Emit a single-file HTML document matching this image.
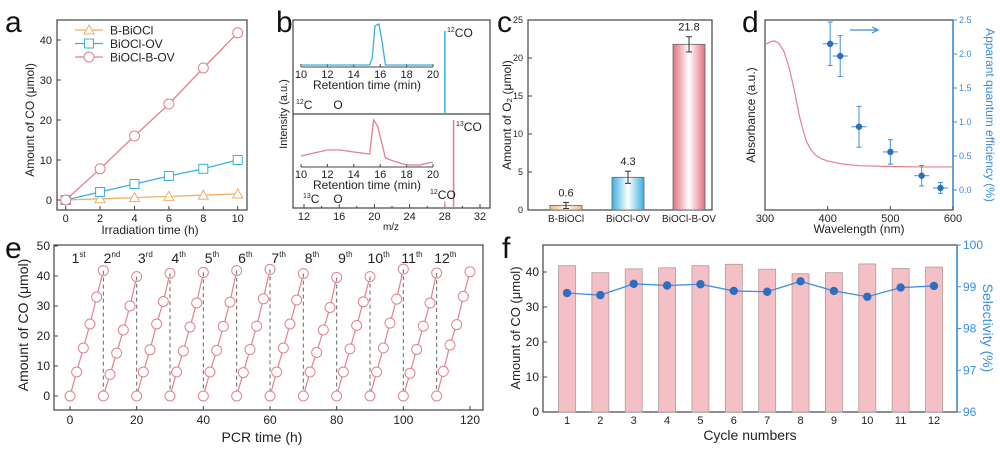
<!DOCTYPE html>
<html><head><meta charset="utf-8"><style>
html,body{margin:0;padding:0;background:#fff;}
svg{display:block;font-family:"Liberation Sans",sans-serif;}
</style></head><body>
<svg id="fig" width="1000" height="452" viewBox="0 0 1000 452" xmlns="http://www.w3.org/2000/svg"></svg>
<script>
// ---------- Data ----------
const aTimes=[0,2,4,6,8,10];
const aBBiOCl=[0,0.3,0.6,0.9,1.2,1.5];
const aBiOClOV=[0,2,4,6,7.8,10];
const aBiOClBOV=[0,7.8,16,24,33,41.8];
const aTicksX=[0,2,4,6,8,10];
const aTicksY=[0,10,20,30,40];

const cCats=["B-BiOCl","BiOCl-OV","BiOCl-B-OV"];
const cVals=[0.6,4.3,21.8];
const cErr=[0.4,0.8,1.0];
const cTicksY=[0,5,10,15,20,25];

const dWave=[404,420,450,500,550,580];
const dAQE=[2.15,1.97,0.93,0.56,0.21,0.03];
const dAQEErr=[0.32,0.3,0.3,0.18,0.15,0.08];
const dAbsX=[300,308,315,322,330,338,345,350,355,360,366,372,380,390,400,425,450,500,550,600];
const dAbsY=[0.84,0.86,0.865,0.85,0.8,0.7,0.58,0.48,0.38,0.3,0.22,0.17,0.13,0.105,0.09,0.07,0.06,0.055,0.052,0.052];
const dTicksX=[300,400,500,600];
const dTicksY=[0.0,0.5,1.0,1.5,2.0,2.5];

const eCycleTops=[41.8,39.8,40.9,41.2,41.8,42.2,40.8,39.5,39.8,42.3,41.0,41.4];
const eCycleMid=[[8,16,24,33],[7.2,14.3,22,30],[8,15.4,24,31.5],[8,15,23,31],[8,15.2,23.2,31.3],[7.8,15.5,23.3,32.4],[8,16,24,32],[8,14.5,22,29.5],[8,15.7,23.5,31.4],[8,16,24.3,32.3],[7.6,15.5,23.3,31],[8.2,17,23.8,33.2]];
const eTicksX=[0,20,40,60,80,100,120];
const eTicksY=[0,10,20,30,40,50];
const eLabels=["1","2","3","4","5","6","7","8","9","10","11","12"];
const eSups=["st","nd","rd","th","th","th","th","th","th","th","th","th"];

const fCycles=[1,2,3,4,5,6,7,8,9,10,11,12];
const fCO=[41.8,39.8,40.9,41.2,41.8,42.2,40.8,39.5,39.8,42.3,41.0,41.4];
const fSel=[98.85,98.8,99.07,99.03,99.06,98.9,98.88,99.13,98.9,98.76,98.98,99.02];
const fTicksL=[0,10,20,30,40];
const fTicksR=[96,97,98,99,100];

// ---------- Helpers ----------
const NS="http://www.w3.org/2000/svg";
const svg=document.getElementById('fig');
function mk(tag,attrs,parent){const e=document.createElementNS(NS,tag);for(const k in attrs)e.setAttribute(k,attrs[k]);(parent||svg).appendChild(e);return e;}
function txt(x,y,s,size,opts){opts=opts||{};const t=mk('text',{x:x,y:y,'font-size':size,fill:opts.fill||'#222','text-anchor':opts.anchor||'middle'});if(opts.rot)t.setAttribute('transform','rotate('+opts.rot+' '+x+' '+y+')');t.textContent=s;return t;}
function lin(d0,d1,p0,p1){return v=>p0+(v-d0)*(p1-p0)/(d1-d0);}
function box(x0,y0,x1,y1){return mk('rect',{x:x0,y:y0,width:x1-x0,height:y1-y0,fill:'none',stroke:'#444','stroke-width':1.2});}
const PINK='#e2808f',BLUE='#3ab0d8',ORANGE='#f0b060',DBLUE='#2c6fc0',LBLUE='#3a8ee0';

// panel letters
[['a',5,32],['b',276,32],['c',497,32],['d',742,32],['e',5,258],['f',502,258]].forEach(p=>{const t=txt(p[1],p[2],p[0],30,{anchor:'start',fill:'#111'});});

// ---------- Panel a ----------
(function(){
const g=mk('g',{});
const X=lin(0,10,65.7,237.7),Y=lin(0,40,200,40);
box(57,20,247,210);
aTicksX.forEach(v=>{mk('line',{x1:X(v),x2:X(v),y1:210,y2:206,stroke:'#444'},g);txt(X(v),222,v,11);});
aTicksY.forEach(v=>{mk('line',{x1:57,x2:61,y1:Y(v),y2:Y(v),stroke:'#444'},g);txt(52,Y(v)+4,v,11,{anchor:'end'});});
txt(150,234,'Irradiation time (h)',12);
const yt=txt(34,120,'Amount of CO (μmol)',12,{rot:-90});
const series=[[aBBiOCl,ORANGE,'tri','B-BiOCl'],[aBiOClOV,BLUE,'sq','BiOCl-OV'],[aBiOClBOV,PINK,'circ','BiOCl-B-OV']];
series.forEach((s,si)=>{
 const pl=mk('polyline',{points:aTimes.map((t,i)=>X(t)+','+Y(s[0][i])).join(' '),fill:'none',stroke:s[1],'stroke-width':1.3},g);
 
 aTimes.forEach((t,i)=>marker(X(t),Y(s[0][i]),s[2],s[1],g));
 const ly=30+si*13.5;
 mk('line',{x1:75,x2:103,y1:ly,y2:ly,stroke:s[1],'stroke-width':1.3},g);marker(89,ly,s[2],s[1],g);
 const lt=txt(110,ly+4.5,s[3],12,{anchor:'start'});
});
function marker(x,y,k,c,p){let m;if(k==='tri')m=mk('polygon',{points:(x)+','+(y-5)+' '+(x-5)+','+(y+4)+' '+(x+5)+','+(y+4),fill:'#fff',stroke:c},p);else if(k==='sq')m=mk('rect',{x:x-4.5,y:y-4.5,width:9,height:9,fill:'#fff',stroke:c},p);else m=mk('circle',{cx:x,cy:y,r:5,fill:'#fff',stroke:c},p);}
})();

// ---------- Panel b ----------
(function(){
const X=lin(12,32,304,480);
box(293,20,490,208);mk('line',{x1:293,x2:490,y1:114,y2:114,stroke:'#444','stroke-width':1.2});
[12,16,20,24,28,32].forEach(v=>{mk('line',{x1:X(v),x2:X(v),y1:208,y2:204,stroke:'#444'});txt(X(v),220,v,11);});
[14,18,22,26,30].forEach(v=>mk('line',{x1:X(v),x2:X(v),y1:208,y2:206,stroke:'#444'}));
txt(391,230,'m/z',10);
txt(287,114,'Intensity (a.u.)',11,{rot:-90});
function inset(base,col,pts,name){const IX=lin(10,20,301,433);
 mk('line',{x1:301,x2:433,y1:base,y2:base,stroke:'#444'});
 [10,12,14,16,18,20].forEach(v=>{mk('line',{x1:IX(v),x2:IX(v),y1:base,y2:base-3,stroke:'#444'});txt(IX(v),base+11,v,11);});
 txt(367,base+22,'Retention time (min)',12);
 const p=mk('polyline',{points:pts.map(q=>IX(q[0])+','+q[1]).join(' '),fill:'none',stroke:col,'stroke-width':1.3});}
inset(67,BLUE,[[10,65],[15.2,65],[15.4,58],[15.6,26],[15.9,24],[16.1,38],[16.4,65],[20,65]],'inset-trace-12co');
inset(167,PINK,[[10,156],[11,153],[12,150],[13,150],[14,152],[15.2,154],[15.5,120],[15.8,126],[16.4,158],[17,161],[18,165],[19,165],[20,162]],'inset-trace-13co');
mk('line',{x1:X(28),x2:X(28),y1:31,y2:114,stroke:BLUE,'stroke-width':1.5});
mk('line',{x1:X(29),x2:X(29),y1:120,y2:208,stroke:PINK,'stroke-width':1.5});
mk('line',{x1:X(28),x2:X(28),y1:201,y2:208,stroke:PINK,'stroke-width':1});
function iso(x,y,sup,s){const t=mk('text',{x:x,y:y,'font-size':12,fill:'#222'});const a=mk('tspan',{'font-size':7,dy:-5},t);a.textContent=sup;const b=mk('tspan',{dy:5},t);b.textContent=s;}
iso(447,37,'12','CO');iso(456,131,'13','CO');iso(430,199,'12','CO');
iso(296,109,'12','C');txt(338,109,'O',12);iso(303,203,'13','C');txt(338,203,'O',12);
})();

// ---------- Panel c ----------
(function(){
const Y=lin(0,25,210,20);const xs=[566,628,689];
const defs=mk('defs',{});
[['gO','#f2b878'],['gB','#3ab0e0'],['gP','#e07080']].forEach(d=>{const lg=mk('linearGradient',{id:d[0],x1:0,x2:1,y1:0,y2:0},defs);mk('stop',{offset:'0','stop-color':d[1]},lg);mk('stop',{offset:'0.5','stop-color':'#fff'},lg);mk('stop',{offset:'1','stop-color':d[1]},lg);});
box(528,20,712,210);
cTicksY.forEach(v=>{mk('line',{x1:528,x2:532,y1:Y(v),y2:Y(v),stroke:'#444'});txt(523,Y(v)+3,v,9,{anchor:'end'});});
txt(511,115,'Amount of O₂ (μmol)',12,{rot:-90});
const g=['url(#gO)','url(#gB)','url(#gP)'];
cVals.forEach((v,i)=>{
 const r=mk('rect',{x:xs[i]-16,y:Y(v),width:32,height:Y(0)-Y(v),fill:g[i],stroke:'#666','stroke-width':0.8});
 
 const e1=Y(v+cErr[i]),e2=Y(Math.max(0,v-cErr[i]));
 mk('line',{x1:xs[i],x2:xs[i],y1:e1,y2:e2,stroke:'#333'});mk('line',{x1:xs[i]-3,x2:xs[i]+3,y1:e1,y2:e1,stroke:'#333'});mk('line',{x1:xs[i]-3,x2:xs[i]+3,y1:e2,y2:e2,stroke:'#333'});
 txt(xs[i],e1-6,v.toFixed(1),11);
 txt(xs[i],222,cCats[i],10);
});
})();

// ---------- Panel d ----------
(function(){
const X=lin(300,600,765,953),YR=lin(0,2.5,190,20),YA=lin(0,1,175,20);
box(765,20,953,210);
mk('line',{x1:953,x2:953,y1:20,y2:210,stroke:LBLUE,'stroke-width':1.5});
dTicksX.forEach(v=>{mk('line',{x1:X(v),x2:X(v),y1:210,y2:206,stroke:'#444'});txt(X(v),222,v,11);});
dTicksY.forEach(v=>{mk('line',{x1:953,x2:957,y1:YR(v),y2:YR(v),stroke:LBLUE});txt(959,YR(v)+3,v.toFixed(1),9,{anchor:'start',fill:LBLUE});});
txt(859,233,'Wavelength (nm)',12);
txt(755,115,'Absorbance (a.u.)',12,{rot:-90});
txt(986,115,'Apparant quantum efficiency (%)',12,{rot:90,fill:LBLUE});
const p=mk('polyline',{points:dAbsX.map((x,i)=>X(x)+','+YA(dAbsY[i])).join(' '),fill:'none',stroke:PINK,'stroke-width':1.2});

dWave.forEach((w,i)=>{const x=X(w),y=YR(dAQE[i]),ey=dAQEErr[i];
 mk('line',{x1:X(w-12),x2:X(w+12),y1:y,y2:y,stroke:LBLUE});mk('line',{x1:x,x2:x,y1:YR(dAQE[i]+ey),y2:YR(dAQE[i]-ey),stroke:LBLUE});
 mk('line',{x1:x-2.5,x2:x+2.5,y1:YR(dAQE[i]+ey),y2:YR(dAQE[i]+ey),stroke:LBLUE});mk('line',{x1:x-2.5,x2:x+2.5,y1:YR(dAQE[i]-ey),y2:YR(dAQE[i]-ey),stroke:LBLUE});
 const c=mk('circle',{cx:x,cy:y,r:3.2,fill:DBLUE});});
mk('line',{x1:850,x2:877,y1:30,y2:30,stroke:LBLUE,'stroke-width':1.2});
mk('polyline',{points:'872,27 878,30 872,33',fill:'none',stroke:LBLUE,'stroke-width':1.2});
})();

// ---------- Panel e ----------
(function(){
const X=lin(0,120,70,470),Y=lin(0,50,396,246);
box(54,245,483,410);
eTicksX.forEach(v=>{mk('line',{x1:X(v),x2:X(v),y1:410,y2:406,stroke:'#444'});txt(X(v),424,v,12);});
eTicksY.forEach(v=>{mk('line',{x1:54,x2:58,y1:Y(v),y2:Y(v),stroke:'#444'});txt(50,Y(v)+4,v,12,{anchor:'end'});});
txt(262,442,'PCR time (h)',14);
txt(28,325,'Amount of CO (μmol)',14,{rot:-90});
eCycleTops.forEach((top,c)=>{
 const vals=[0].concat(eCycleMid[c]).concat([top]);const t0=c*10;
 const pl=mk('polyline',{points:vals.map((v,i)=>X(t0+2*i)+','+Y(v)).join(' '),fill:'none',stroke:PINK,'stroke-width':1.2});
 
 vals.forEach((v,i)=>{const cc=mk('circle',{cx:X(t0+2*i),cy:Y(v),r:5,fill:'#fff',stroke:PINK});});
 if(c<11)mk('line',{x1:X(t0+10),x2:X(t0+10),y1:Y(top),y2:Y(0),stroke:'#666','stroke-dasharray':'4,3'});
 const t=mk('text',{x:X(t0+5)-8,y:263,'font-size':14,fill:'#222','text-anchor':'middle'});
 const a=mk('tspan',{},t);a.textContent=eLabels[c];const b=mk('tspan',{'font-size':8,dy:-6},t);b.textContent=eSups[c];
});
})();

// ---------- Panel f ----------
(function(){
const X=lin(1,12,567,934),YL=lin(0,40,412,272),YR=lin(96,100,412,245);
box(543,245,957,412);
mk('line',{x1:957,x2:957,y1:245,y2:412,stroke:LBLUE,'stroke-width':1.5});
fCycles.forEach(v=>{mk('line',{x1:X(v),x2:X(v),y1:412,y2:408,stroke:'#444'});txt(X(v),424,v,11);});
fTicksL.forEach(v=>{mk('line',{x1:543,x2:547,y1:YL(v),y2:YL(v),stroke:'#444'});txt(539,YL(v)+4,v,12,{anchor:'end'});});
fTicksR.forEach(v=>{mk('line',{x1:957,x2:961,y1:YR(v),y2:YR(v),stroke:LBLUE});txt(963,YR(v)+4,v,12,{anchor:'start',fill:LBLUE});});
txt(750,440,'Cycle numbers',14);
txt(520,328,'Amount of CO (μmol)',13,{rot:-90});
txt(983,328,'Selectivity (%)',14,{rot:90,fill:LBLUE});
fCO.forEach((v,i)=>{const r=mk('rect',{x:X(fCycles[i])-8.5,y:YL(v),width:17,height:YL(0)-YL(v),fill:'#f4c0c6',stroke:'#b09a9c','stroke-width':0.8});});
const pl=mk('polyline',{points:fSel.map((v,i)=>X(fCycles[i])+','+YR(v)).join(' '),fill:'none',stroke:LBLUE,'stroke-width':1.3});

fSel.forEach((v,i)=>{const c=mk('circle',{cx:X(fCycles[i]),cy:YR(v),r:4.2,fill:DBLUE});});
})();
</script>
</body></html>
